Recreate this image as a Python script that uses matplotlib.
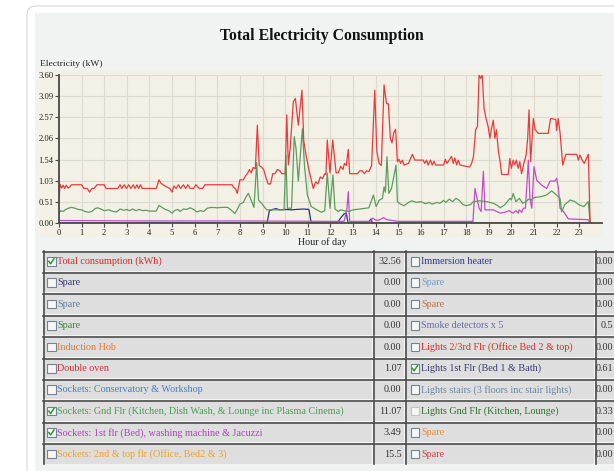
import numpy as np
import matplotlib.pyplot as plt
from matplotlib.patches import Rectangle, FancyBboxPatch

plt.rcParams['font.family'] = ['Liberation Serif', 'DejaVu Serif']

W, H = 614, 471

# ---- chart data (hour of day, kW) ----
total_h = [0.00, 0.05, 0.12, 0.18, 0.25, 0.32, 0.40, 0.48, 0.55, 1.00, 1.10, 1.25, 1.35, 1.45, 1.55, 1.68,
           2.00, 2.08, 2.60, 2.70, 2.78, 2.88, 2.98, 3.08, 3.18, 3.28, 3.36, 3.45, 3.52, 3.60, 3.68, 4.30,
           4.42, 4.50, 4.60, 4.75, 4.90, 5.00, 5.08, 5.18, 5.28, 5.38, 5.50, 5.60, 5.70, 5.80, 5.95, 6.05,
           6.20, 6.35, 6.45, 7.65, 7.72, 7.80, 7.88, 8.00, 8.15, 8.25, 8.35, 8.42, 8.50, 8.58, 8.68, 8.77,
           8.85, 8.95, 9.05, 9.15, 9.25, 9.35, 9.45, 9.55, 9.65, 9.75, 9.85, 10.00, 10.07, 10.14, 10.22,
           10.36, 10.45, 10.58, 10.74, 10.82, 10.92, 11.05, 11.24, 11.35, 11.45, 11.55, 11.65, 11.75, 11.80,
           11.86, 11.98, 12.10, 12.25, 12.35, 12.45, 12.55, 12.62, 12.70, 12.79, 12.85, 13.20, 13.30, 13.40,
           13.50, 13.60, 13.70, 13.82, 13.96, 14.05, 14.15, 14.25, 14.37, 14.48, 14.56, 14.65, 14.72, 14.80,
           14.88, 14.96, 15.03, 15.10, 15.18, 15.25, 15.45, 15.62, 15.73, 16.10, 16.17, 16.25, 16.32, 16.42,
           16.50, 16.58, 16.65, 17.00, 17.08, 17.15, 17.25, 17.35, 17.43, 17.50, 17.58, 17.65, 17.73, 18.15,
           18.24, 18.32, 18.42, 18.50, 18.57, 18.64, 18.71, 18.79, 18.88, 18.97, 19.05, 19.12, 19.20, 19.27,
           19.34, 19.42, 19.50, 19.57, 19.86, 19.93, 20.00, 20.08, 20.15, 20.22, 20.30, 20.37, 20.45, 20.55,
           20.65, 20.72, 20.78, 20.85, 20.97, 21.05, 21.19, 21.63, 21.73, 21.96, 22.00, 22.07, 22.15, 22.27,
           22.41, 22.89, 22.96, 23.03, 23.13, 23.22, 23.40, 23.48]
total_v = [0.61, 0.94, 0.85, 0.92, 0.84, 0.92, 0.85, 0.88, 0.93, 0.93, 0.84, 0.84, 0.75, 0.84, 0.84, 0.93,
           0.93, 0.84, 0.84, 0.93, 0.84, 0.93, 0.84, 0.93, 0.84, 0.93, 0.84, 0.93, 0.84, 0.93, 0.84, 0.84,
           1.05, 0.97, 0.93, 0.88, 0.84, 0.75, 0.90, 0.84, 0.93, 0.84, 0.93, 0.84, 0.93, 0.84, 0.84, 0.93,
           0.84, 0.84, 0.93, 0.93, 0.86, 0.84, 0.72, 1.05, 1.05, 1.15, 1.22, 1.30, 1.22, 1.35, 1.32, 2.38,
           1.40, 1.36, 1.30, 1.10, 0.95, 0.95, 1.20, 1.20, 1.30, 1.28, 1.20, 1.20, 2.63, 1.41, 1.82,
           2.95, 3.03, 2.38, 3.23, 2.00, 1.65, 1.29, 0.84, 1.00, 0.95, 1.12, 1.08, 1.20, 1.18,
           2.02, 1.22, 2.02, 1.22, 1.22, 1.38, 1.30, 1.45, 1.40, 1.79, 1.20, 1.20, 1.27, 1.27,
           1.20, 1.27, 1.25, 1.40, 3.23, 1.75, 1.45, 1.40, 3.36, 2.90, 2.90, 2.05, 1.95, 2.20,
           2.28, 1.49, 1.55, 1.45, 1.53, 1.41, 1.45, 1.67, 1.53, 1.53, 1.45, 1.53, 1.41, 1.53,
           1.41, 1.50, 1.41, 1.41, 1.55, 1.45, 1.53, 1.62, 1.45, 1.58, 1.41, 1.53, 1.41, 1.36,
           1.45, 1.60, 2.27, 2.35, 3.60, 3.52, 3.60, 2.79, 2.54, 2.35, 2.06, 2.30, 2.50, 2.06,
           2.27, 1.77, 1.49, 1.18, 1.18, 1.57, 1.33, 1.53, 1.41, 1.53, 1.33, 1.49, 1.20, 1.45,
           1.65, 2.06, 2.75, 1.49, 2.54, 2.27, 2.18, 2.18, 2.54, 2.52, 2.25, 2.54, 2.20, 1.41,
           1.67, 1.67, 1.53, 1.65, 1.53, 1.45, 1.67, 0.00]

gnd_h = [0.00, 0.08, 0.18, 0.30, 0.42, 0.55, 0.70, 0.85, 1.00, 1.15, 1.30, 1.45, 1.60, 1.70, 1.85, 2.00,
         2.20, 2.40, 2.55, 2.70, 2.85, 3.00, 3.10, 3.25, 3.40, 3.55, 3.70, 3.85, 4.00, 4.30, 4.42, 4.55,
         4.70, 4.85, 5.00, 5.10, 5.25, 5.35, 5.50, 5.65, 5.80, 5.95, 6.10, 6.25, 6.40, 6.55, 6.75, 7.00,
         7.20, 7.45, 7.60, 7.78, 7.90, 8.00, 8.15, 8.25, 8.37, 8.50, 8.62, 8.74, 8.82, 8.95, 9.18, 9.95,
         10.03, 10.10, 10.28, 10.40, 10.48, 10.58, 10.76, 10.85, 10.98, 11.15, 11.40, 11.60, 11.75, 11.86,
         11.98, 12.11, 12.20, 12.35, 12.45, 12.60, 12.80, 13.00, 13.30, 13.70, 13.90, 14.02, 14.15, 14.30,
         14.37, 14.43, 14.50, 14.58, 14.70, 14.90, 14.96, 15.10, 15.25, 15.45, 15.60, 15.80, 16.00, 16.20,
         16.35, 16.50, 16.70, 16.85, 17.00, 17.10, 17.25, 17.40, 17.55, 17.70, 17.85, 18.00, 18.20, 18.32,
         18.60, 18.90, 19.20, 19.40, 19.50, 19.70, 19.94, 20.00, 20.08, 20.20, 20.35, 20.50, 20.65, 20.75,
         20.90, 21.00, 21.30, 21.55, 21.78, 22.00, 22.15, 22.22, 22.35, 22.60, 22.80, 23.00, 23.20, 23.40,
         23.48]
gnd_v = [0.24, 0.30, 0.28, 0.33, 0.36, 0.38, 0.36, 0.33, 0.32, 0.28, 0.26, 0.28, 0.35, 0.37, 0.34, 0.30,
         0.32, 0.28, 0.27, 0.34, 0.31, 0.33, 0.30, 0.34, 0.30, 0.33, 0.30, 0.31, 0.29, 0.29, 0.43, 0.38,
         0.33, 0.30, 0.24, 0.30, 0.33, 0.28, 0.34, 0.33, 0.37, 0.33, 0.27, 0.30, 0.28, 0.36, 0.38, 0.37,
         0.38, 0.38, 0.32, 0.23, 0.35, 0.46, 0.50, 0.62, 0.72, 0.55, 0.38, 1.47, 0.56, 0.48, 0.32, 0.32,
         1.65, 0.36, 0.36, 2.10, 1.80, 1.02, 2.29, 1.41, 0.68, 0.40, 0.32, 0.26, 0.30, 1.21,
         0.36, 1.17, 0.34, 0.28, 0.32, 0.30, 0.28, 0.32, 0.34, 0.37, 0.68, 0.40, 0.55, 0.60,
         0.88, 0.75, 1.61, 0.72, 0.84, 1.41, 0.52, 0.46, 0.42, 0.50, 0.54, 0.50, 0.52, 0.47,
         0.50, 0.46, 0.50, 0.48, 0.55, 0.50, 0.58, 0.52, 0.60, 0.55, 0.45, 0.42, 0.45, 0.52,
         0.54, 0.52, 0.48, 0.42, 0.37, 0.44, 0.60, 0.56, 0.72, 0.52, 0.60, 0.48, 0.52, 0.58,
         0.56, 0.62, 0.64, 0.68, 0.78, 0.68, 0.60, 0.27, 0.44, 0.56, 0.52, 0.44, 0.40, 0.52,
         0.00]

first_h = [0.00, 4.00, 8.00, 12.00, 12.60, 12.72, 12.79, 12.85, 13.75, 13.88, 14.00, 14.15, 14.35, 14.50,
           15.00, 18.30, 18.39, 18.45, 18.57, 18.66, 18.76, 18.83, 19.20, 19.50, 19.70, 19.91, 20.00, 20.08,
           20.20, 20.30, 20.35, 20.45, 20.53, 20.62, 20.75, 20.82, 20.90, 21.00, 21.12, 21.34, 21.56, 21.71,
           21.93, 22.00, 22.08, 22.15, 22.30, 22.52, 23.40, 23.47]
first_v = [0.06, 0.05, 0.05, 0.04, 0.04, 0.30, 0.76, 0.04, 0.04, 0.12, 0.07, 0.07, 0.13, 0.08,
           0.04, 0.04, 0.84, 0.68, 0.36, 0.28, 1.26, 0.32, 0.32, 0.24, 0.26, 0.30, 0.26, 0.24,
           0.30, 0.24, 0.32, 0.26, 0.36, 0.36, 1.53, 0.60, 0.36, 1.37, 1.04, 0.92, 0.84, 1.02,
           1.02, 1.09, 0.84, 0.36, 0.28, 0.10, 0.08, 0.00]

lights_h = [0.00, 9.20, 9.30, 9.45, 9.60, 9.75, 10.00, 10.30, 10.50, 10.80, 11.05, 11.15, 12.30, 12.45,
            12.60, 12.70, 12.78, 13.65, 13.80, 13.85, 23.50]
lights_v = [0.00, 0.00, 0.30, 0.33, 0.35, 0.32, 0.33, 0.32, 0.33, 0.34, 0.33, 0.00, 0.00, 0.12,
            0.22, 0.24, 0.00, 0.00, 0.10, 0.00, 0.00]

y_ticks = [0, 3.6 / 7, 2 * 3.6 / 7, 3 * 3.6 / 7, 4 * 3.6 / 7, 5 * 3.6 / 7, 6 * 3.6 / 7, 3.6]
y_labels = ['0.00', '0.51', '1.03', '1.54', '2.06', '2.57', '3.09', '3.60']
hours = list(range(24))

# ---- table data ----
left_labels = ['Total consumption (kWh)', 'Spare', 'Spare', 'Spare', 'Induction Hob', 'Double oven',
               'Sockets: Conservatory & Workshop',
               'Sockets: Gnd Flr (Kitchen, Dish Wash, & Lounge inc Plasma Cinema)',
               'Sockets: 1st flr (Bed), washing machine & Jacuzzi',
               'Sockets: 2nd & top flr (Office, Bed2 & 3)']
left_values = ['32.56', '0.00', '0.00', '0.00', '0.00', '1.07', '0.00', '11.07', '3.49', '15.5']
left_checked = [True, False, False, False, False, False, False, True, True, False]
left_colors = ['#d8262c', '#3a3a7a', '#6080a0', '#3f7f3f', '#e07a30', '#c83030', '#4a78c8',
               '#4a9a5a', '#b040c0', '#f0a030']

right_labels = ['Immersion heater', 'Spare', 'Spare', 'Smoke detectors x 5',
                'Lights 2/3rd Flr (Office Bed 2 & top)', 'Lights 1st Flr (Bed 1 & Bath)',
                'Lights stairs (3 floors inc stair lights)', 'Lights Gnd Flr (Kitchen, Lounge)',
                'Spare', 'Spare']
right_values = ['0.00', '0.00', '0.00', '0.5', '0.00', '0.61', '0.00', '0.33', '0.00', '0.00']
right_checked = [False, False, False, False, False, True, False, False, False, False]
right_colors = ['#3030a8', '#6aa0c8', '#c07040', '#6868a8', '#e02828', '#383878', '#6888a8',
                '#2f6f2f', '#f08830', '#d04040']

fig = plt.figure(figsize=(W / 100, H / 100), dpi=100)
fig.patch.set_facecolor('white')

# pixel-space background layer
bg = fig.add_axes([0, 0, 1, 1])
bg.set_xlim(0, W)
bg.set_ylim(H, 0)
bg.axis('off')

bg.add_patch(FancyBboxPatch((27, 6), 700, 600, boxstyle='round,pad=0,rounding_size=9',
                            fc='white', ec='#d6d6d6', lw=0.8))
bg.add_patch(Rectangle((35, 13), 700, 600, fc='#f1f2f2', ec='none'))
bg.add_patch(Rectangle((40, 70), 562, 167, fc='#f3f0e5', ec='none'))

bg.text(322, 36, 'Total Electricity Consumption', ha='center', va='center',
        fontsize=11.3, fontweight='bold', color='#111111')
bg.text(40, 64, 'Electricity (kW)', ha='left', va='center', fontsize=6.8, color='#222222')
bg.text(322, 242, 'Hour of day', ha='center', va='center', fontsize=7.2, color='#222222')

# table
row_top, row_h = 251, 21.4
cols = [(43, 372), (373, 404), (405, 594), (595, 640)]


def cell(x0, x1, y0):
    h = row_h - 1.4
    bg.add_patch(Rectangle((x0, y0), x1 - x0, h, fc='#dedede', ec='none'))
    bg.plot([x0, x1], [y0 + h, y0 + h], color='#f4f4f4', lw=0.8)
    bg.plot([x1, x1], [y0, y0 + h], color='#f4f4f4', lw=0.8)
    bg.plot([x0, x1], [y0 + 0.6, y0 + 0.6], color='#4c4c4c', lw=1.2)
    bg.plot([x0 + 0.6, x0 + 0.6], [y0, y0 + h], color='#4c4c4c', lw=1.2)


def checkbox(x, yc, checked, dim=False):
    bg.add_patch(Rectangle((x, yc - 4.5), 8.5, 8.5, fc='#f6f6f6',
                           ec='#c4c4c4' if dim else '#6f8498', lw=0.8))
    if checked:
        bg.plot([x + 1.8, x + 3.6, x + 7.0], [yc - 0.2, yc + 2.3, yc - 2.8],
                color='#2e9a2e', lw=1.1)


for i in range(len(left_labels)):
    y0 = row_top + i * row_h
    yc = y0 + (row_h - 1.4) / 2 + 0.5
    for x0, x1 in cols:
        cell(x0, x1, y0)
    checkbox(47, yc, left_checked[i])
    bg.text(57, yc, left_labels[i], color=left_colors[i], fontsize=7.3, va='center', ha='left')
    bg.text(401.5, yc, left_values[i], color='#333333', fontsize=7.3, va='center', ha='right')
    checkbox(410.5, yc, right_checked[i], dim=(right_labels[i].startswith('Lights Gnd')))
    bg.text(421, yc, right_labels[i], color=right_colors[i], fontsize=7.3, va='center', ha='left')
    bg.text(613.5, yc, right_values[i], color='#333333', fontsize=7.3, va='center', ha='right')

# chart axes
x0, x1 = 59, 59 + 24 * 22.62
ax = fig.add_axes([x0 / W, 1 - 223 / H, (x1 - x0) / W, 148 / H])
ax.set_facecolor('none')
ax.plot(lights_h, lights_v, color='#2e2e86', lw=0.9, zorder=3)
ax.plot(first_h, first_v, color='#c24cc8', lw=0.9, zorder=3)
ax.plot(gnd_h, gnd_v, color='#5c9c5c', lw=0.9, zorder=3)
ax.plot(total_h, total_v, color='#ea3a3a', lw=0.9, zorder=4)

ax.set_xlim(0, 24)
ax.set_ylim(0, 3.6)
ax.set_xticks(hours)
ax.set_xticklabels([str(h) for h in hours])
ax.set_yticks(y_ticks)
ax.set_yticklabels(y_labels)
ax.grid(True, color='#dcdbd2', lw=0.8, zorder=0)
ax.set_axisbelow(True)
for s in ['top', 'right']:
    ax.spines[s].set_visible(False)
for s in ['left', 'bottom']:
    ax.spines[s].set_color('#4a4a4a')
    ax.spines[s].set_linewidth(1.3)
    ax.spines[s].set_zorder(5)
ax.tick_params(axis='both', direction='out', length=3, width=0.8, color='#4a4a4a',
               labelsize=6.2, labelcolor='#222222', pad=1)

fig.savefig('out.png', dpi=100)
